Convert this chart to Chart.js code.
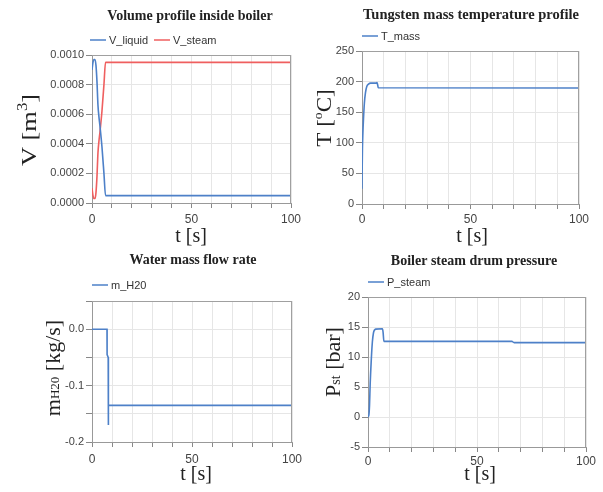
<!DOCTYPE html>
<html><head><meta charset="utf-8">
<script src="https://cdn.jsdelivr.net/npm/chart.js@4.4.1/dist/chart.umd.min.js"></script>
<style>
html,body{margin:0;padding:0;background:#fff;}
#wrap{position:relative;width:603px;height:492px;overflow:hidden;}
#wrap canvas{position:absolute;left:0;top:0;}
</style>
</head><body>
<div id="wrap">
<canvas id="c1" width="603" height="492"></canvas>
<canvas id="c2" width="603" height="492"></canvas>
<canvas id="c3" width="603" height="492"></canvas>
<canvas id="c4" width="603" height="492"></canvas>
</div>
<script>
// ---------------- DATA ----------------
const xTickLabels = [0, 50, 100];

// Volume profile inside boiler
const tVolume  = [0, 0.5, 1, 1.5, 2, 2.5, 3, 3.5, 4, 5, 6, 6.8, 100];
const vLiquid  = [0.00090, 0.00095, 0.00097, 0.00097, 0.00093, 0.00082, 0.00066, 0.00058, 0.00052, 0.00038, 0.00020, 0.00005, 0.00005];
const vSteam   = [0.00010, 0.00005, 0.00003, 0.00003, 0.00007, 0.00018, 0.00034, 0.00042, 0.00048, 0.00062, 0.00080, 0.00095, 0.00095];

// Tungsten mass temperature profile
const tMassT   = [0, 0.05, 0.2, 0.4, 0.7, 1.1, 1.6, 2.2, 3, 4, 6.6, 6.9, 7.2, 7.5, 100];
const TMass    = [25, 50, 90, 115, 140, 165, 182, 192, 196, 197.5, 197.5, 198.5, 195, 190, 189.5];

// Water mass flow rate
const tFlow    = [0, 7.5, 7.55, 8.1, 8.15, 8.25, 100];
const mH2O     = [0, 0, -0.045, -0.05, -0.17, -0.135, -0.135];

// Boiler steam drum pressure
const tPress   = [0, 0.4, 0.7, 1, 1.5, 2, 2.5, 3, 3.5, 6.6, 6.9, 7.3, 66, 67, 100];
const pSteam   = [0, 0.3, 2, 5.5, 9.5, 12.5, 14, 14.5, 14.65, 14.7, 14.2, 12.6, 12.6, 12.4, 12.4];

// ---------------- STYLE ----------------
const BLUE = '#4d80c8';
const RED  = '#ef5f5f';
const SANS = "'Liberation Sans', Arial, sans-serif";
const SERIF = "'Liberation Serif', 'Times New Roman', serif";

const decor = {
  id: 'decor',
  afterDraw(chart, args, o) {
    const ctx = chart.ctx;
    const ca = chart.chartArea;
    ctx.save();
    // box top/right
    ctx.strokeStyle = '#a0a0a0'; ctx.lineWidth = 1;
    ctx.beginPath();
    ctx.moveTo(ca.left, Math.round(ca.top) + 0.5);
    ctx.lineTo(ca.right, Math.round(ca.top) + 0.5);
    ctx.moveTo(Math.round(ca.right) - 0.5, ca.top);
    ctx.lineTo(Math.round(ca.right) - 0.5, ca.bottom);
    ctx.stroke();
    // title
    ctx.fillStyle = '#222';
    ctx.font = 'bold ' + (o.titleSize || 14) + 'px ' + SERIF;
    ctx.textAlign = 'center'; ctx.textBaseline = 'middle';
    ctx.fillText(o.title, o.titlePos[0], o.titlePos[1]);
    // legend
    ctx.font = '11px ' + SANS;
    ctx.textAlign = 'left';
    chart.data.datasets.forEach((ds, i) => {
      const lx = o.legendX[i], ly = o.legendY;
      ctx.strokeStyle = ds.borderColor; ctx.lineWidth = 1.5;
      ctx.beginPath(); ctx.moveTo(lx, ly); ctx.lineTo(lx + 16, ly); ctx.stroke();
      ctx.fillStyle = '#333';
      ctx.fillText(ds.label, lx + 19, ly + 0.5);
    });
    // x title
    ctx.fillStyle = '#222';
    ctx.font = '20px ' + SERIF;
    ctx.textAlign = 'center';
    ctx.fillText('t [s]', o.xTitlePos[0], o.xTitlePos[1]);
    // y title (rich text, rotated)
    ctx.translate(o.yTitlePos[0], o.yTitlePos[1]);
    ctx.rotate(-Math.PI / 2);
    ctx.scale(o.yStretch || 1, 1);
    ctx.textAlign = 'left'; ctx.textBaseline = 'alphabetic';
    let total = 0;
    o.yTitle.forEach(s => { ctx.font = s.size + 'px ' + SERIF; s.w = ctx.measureText(s.text).width; total += s.w; });
    let x = -total / 2;
    const base = o.yBase;
    o.yTitle.forEach(s => {
      ctx.font = s.size + 'px ' + SERIF;
      ctx.fillText(s.text, x, base + (s.dy || 0));
      x += s.w;
    });
    ctx.restore();
  }
};

function makeChart(id, c) {
  const [L, T, R, B] = c.area;
  const YW = 44, XH = 24;
  return new Chart(document.getElementById(id), {
    type: 'line',
    data: {
      datasets: c.series.map(s => ({
        label: s.label,
        data: s.t.map((t, i) => ({ x: t, y: s.v[i] })),
        borderColor: s.color,
        borderWidth: 1.6,
        pointRadius: 0,
        fill: false,
        tension: 0,
        cubicInterpolationMode: s.smooth ? 'monotone' : 'default'
      }))
    },
    options: {
      responsive: false, animation: false, events: [],
      layout: { padding: { left: L - YW, top: T, right: 603 - R, bottom: 492 - B - XH } },
      plugins: { legend: { display: false }, title: { display: false }, tooltip: { enabled: false }, decor: c.decor },
      scales: {
        x: {
          type: 'linear', min: 0, max: 100,
          afterFit(s) { s.height = XH; },
          ticks: { stepSize: 10, autoSkip: false, maxRotation: 0, padding: c.xPad,
                   font: { family: SANS, size: 12 }, color: '#444',
                   callback: v => xTickLabels.includes(v) ? String(v) : '' },
          grid: { color: '#e6e6e6', tickColor: '#888', tickLength: 5 },
          border: { color: '#999', width: 1 }
        },
        y: {
          type: 'linear', min: c.y.min, max: c.y.max,
          afterFit(s) { s.width = YW; },
          ticks: { stepSize: c.y.step, autoSkip: false, padding: 2,
                   font: { family: SANS, size: 11 }, color: '#444',
                   callback: c.y.fmt },
          grid: { color: '#e6e6e6', tickColor: '#888', tickLength: 6 },
          border: { color: '#999', width: 1 }
        }
      }
    },
    plugins: [decor]
  });
}

makeChart('c1', {
  area: [92, 55, 291, 203], xPad: 4,
  y: { min: 0, max: 0.001, step: 0.0002, fmt: v => v.toFixed(4) },
  series: [
    { label: 'V_liquid', t: tVolume, v: vLiquid, color: BLUE, smooth: true },
    { label: 'V_steam',  t: tVolume, v: vSteam,  color: RED,  smooth: true }
  ],
  decor: {
    title: 'Volume profile inside boiler', titlePos: [190, 16],
    legendX: [90, 154], legendY: 40,
    xTitlePos: [191, 237],
    yTitlePos: [28, 130], yBase: 8, yStretch: 1.2,
    yTitle: [ { text: 'V [m', size: 22 }, { text: '3', size: 14, dy: -9 }, { text: ']', size: 22 } ]
  }
});

makeChart('c2', {
  area: [362, 51, 579, 204], xPad: 3,
  y: { min: 0, max: 250, step: 50, fmt: v => String(v) },
  series: [ { label: 'T_mass', t: tMassT, v: TMass, color: BLUE, smooth: true } ],
  decor: {
    title: 'Tungsten mass temperature profile', titlePos: [471, 15], titleSize: 14.5,
    legendX: [362], legendY: 36,
    xTitlePos: [472, 237],
    yTitlePos: [323, 118], yBase: 8, yStretch: 1.05,
    yTitle: [ { text: 'T [', size: 22 }, { text: 'o', size: 13, dy: -9 }, { text: 'C]', size: 22 } ]
  }
});

makeChart('c3', {
  area: [92, 301, 292, 442], xPad: 5,
  y: { min: -0.2, max: 0.05, step: 0.05,
       fmt: v => (Math.abs(v * 10 - Math.round(v * 10)) < 1e-6 && v < 0.01) ? (Math.abs(v) < 1e-9 ? '0.0' : v.toFixed(1)) : '' },
  series: [ { label: 'm_H20', t: tFlow, v: mH2O, color: BLUE, smooth: false } ],
  decor: {
    title: 'Water mass flow rate', titlePos: [193, 260],
    legendX: [92], legendY: 285,
    xTitlePos: [196, 475],
    yTitlePos: [52, 368], yBase: 8, yStretch: 1.0,
    yTitle: [ { text: 'm', size: 22 }, { text: 'H20', size: 13, dy: -1 }, { text: ' [kg/s]', size: 22 } ]
  }
});

makeChart('c4', {
  area: [368, 297, 586, 447], xPad: 2,
  y: { min: -5, max: 20, step: 5, fmt: v => String(v) },
  series: [ { label: 'P_steam', t: tPress, v: pSteam, color: BLUE, smooth: true } ],
  decor: {
    title: 'Boiler steam drum pressure', titlePos: [474, 261],
    legendX: [368], legendY: 282,
    xTitlePos: [480, 475],
    yTitlePos: [332, 362], yBase: 8, yStretch: 1.0,
    yTitle: [ { text: 'P', size: 22 }, { text: 'st', size: 14, dy: 0 }, { text: ' [bar]', size: 22 } ]
  }
});
</script>
</body></html>
